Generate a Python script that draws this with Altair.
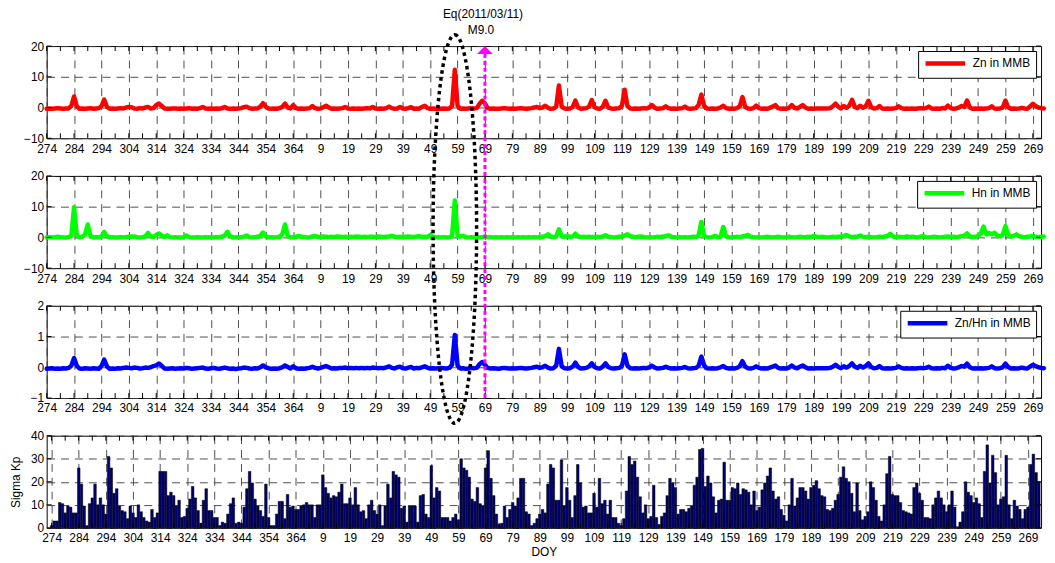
import altair as alt
import pandas as pd

# ---------------- data (day index 0 = DOY 274 of 2010) ----------------
DOY_START = 274
N_DAYS = 365
EQ_IDX = 160          # 2011/03/11 event marker position (tick "69")

kp = [
    1, 3, 3, 11, 10.5, 6.5, 9.5, 9, 6.5, 6.5,
    26, 19, 9.5, 1, 10.5, 13, 19, 10, 13, 10,
    6, 31, 26, 15, 17, 9.5, 7.5, 7, 4, 9.5,
    6.5, 4.5, 10, 7, 4.5, 3, 2.5, 8, 4.5, 6.5,
    24.5, 24.5, 24.5, 14, 15.5, 14, 9.5, 12, 4.5, 5,
    8.5, 12.5, 18, 13, 7.5, 2, 12, 17, 7.5, 7.5,
    4.5, 4.5, 1, 2.5, 2, 6, 10.5, 13, 2, 2.5,
    2, 9, 17, 24.5, 19.5, 12.5, 9.5, 7.5, 5, 19,
    4.5, 1, 1, 6, 11.5, 11.5, 4, 14.5, 9, 9.5,
    8, 8, 9.5, 10, 11, 10, 10, 4.5, 10, 10,
    23, 17.5, 15, 13, 14, 13.5, 15.5, 19, 10.5, 10.5,
    13, 10, 17.5, 10, 7, 7.5, 4, 10, 12, 7.5,
    6, 10, 1, 9.5, 19, 13, 24.5, 23, 22, 8.5,
    9.5, 2.5, 9.5, 9.5, 9.5, 2.5, 14, 14.5, 6, 4.5,
    27, 13, 17.5, 16, 4.5, 4.5, 4.5, 3, 4.5, 6,
    3.5, 30, 26, 25, 22, 12.5, 11.5, 17.5, 10.5, 9.5,
    26, 33.5, 21.5, 14, 6, 1.5, 2, 9.5, 4.5, 8,
    11, 9.5, 13, 21.5, 21.5, 7, 6, 1, 2, 4,
    6, 8, 6.5, 19, 27.5, 26, 12, 12, 29.5, 9.5,
    17.5, 12, 4.5, 14, 27.5, 19.5, 9, 9.5, 6.5, 6.5,
    15, 9, 21.5, 10.5, 12, 6, 12, 4.5, 4.5, 2,
    1, 4, 16, 31, 27.5, 29, 22, 13.5, 6.5, 10,
    4, 5, 18.5, 4.5, 1.5, 5, 6.5, 14, 21.5, 19.5,
    17.5, 6, 8, 8, 7, 8.5, 9.5, 18.5, 22, 34,
    34.5, 18, 22.5, 19.5, 13.5, 6.5, 12, 12.5, 28.5, 12,
    12, 17.5, 17, 19.5, 14.5, 17, 16.5, 15.5, 10, 16,
    7.5, 9, 16.5, 19.5, 22.5, 26, 16, 12.5, 13.5, 8,
    5.5, 3, 10, 21.5, 9.5, 13, 17.5, 17.5, 16, 12.5,
    17.5, 18.5, 20.5, 17, 14, 13.5, 8, 7.5, 8.5, 12,
    14.5, 22, 26.5, 21.5, 20, 15, 7, 19.5, 7.5, 3.5,
    5, 7, 20, 17.5, 12, 5, 3, 10, 23.5, 31,
    14.5, 14, 14, 11, 7.5, 7, 6.5, 6, 17.5, 19.5,
    15, 12, 4.5, 4.5, 4, 10, 13, 16, 13, 10,
    7, 10, 16, 9, 0.5, 2.5, 7, 20, 15.5, 14,
    11, 13, 10.5, 4.5, 24.5, 36, 19.5, 31.5, 24, 10,
    12.5, 13.5, 31.5, 10, 4, 12, 9.5, 8, 4, 8,
    9, 27.5, 32, 24, 20,
]

zn = [
    -0.4, -0.3, -0.4, -0.3, -0.2, -0.3, -0.4, -0.3, -0.3, 0.5,
    3.6, 0.4, -0.4, -0.3, -0.4, -0.3, -0.2, -0.4, -0.3, -0.2,
    0.4, 2.6, 0.2, -0.4, -0.3, -0.4, -0.3, -0.2, -0.3, 0.0,
    0.2, 0.1, -0.3, -0.4, -0.2, -0.3, 0.0, 0.2, -0.3, -0.2,
    0.8, 1.3, 0.5, -0.3, -0.4, -0.4, -0.3, -0.3, -0.4, -0.3,
    -0.4, -0.3, -0.2, -0.4, -0.3, -0.4, -0.2, 0.2, -0.3, -0.4,
    -0.3, -0.4, -0.3, -0.4, -0.2, 0.2, -0.3, -0.4, -0.3, -0.4,
    -0.3, -0.2, 0.1, 0.3, -0.2, -0.4, -0.3, -0.3, 0.3, 1.4,
    0.2, -0.3, -0.4, -0.3, -0.4, -0.2, 0.2, 1.3, 0.0, -0.3,
    0.8, -0.2, -0.4, -0.3, -0.4, -0.3, -0.2, 0.5, -0.2, -0.4,
    -0.3, 0.1, 0.6, 0.0, -0.4, -0.3, -0.4, -0.3, -0.2, 0.2,
    -0.3, -0.4, -0.3, -0.4, -0.3, -0.4, -0.3, -0.2, -0.3, 0.2,
    -0.3, -0.4, -0.3, -0.4, -0.2, 0.3, -0.2, -0.4, -0.3, 0.2,
    -0.3, -0.4, -0.2, 0.1, -0.4, -0.3, -0.4, 0.2, 0.6, -0.2,
    -0.4, -0.3, -0.4, -0.3, -0.4, -0.3, -0.4, -0.3, 0.5, 12.3,
    0.6, -0.4, -0.3, -0.4, -0.3, -0.2, -0.3, -0.2, 1.2, 2.2,
    1.3, -0.2, -0.4, -0.3, -0.4, -0.4, -0.3, -0.2, -0.3, -0.4,
    -0.3, -0.4, -0.3, -0.2, -0.3, -0.4, -0.3, -0.2, 0.0, 0.2,
    -0.2, 0.0, 0.6, -0.1, -0.4, -0.3, 0.2, 7.2, 0.3, -0.3,
    -0.4, -0.3, 0.1, 2.3, 0.0, -0.4, -0.3, -0.2, 0.3, 2.4,
    0.1, -0.3, -0.4, 0.2, 2.2, 0.0, -0.3, -0.4, -0.3, -0.2,
    0.6, 5.8, 0.5, -0.3, -0.4, -0.3, -0.4, -0.3, -0.2, -0.3,
    0.1, 0.8, -0.1, -0.4, -0.3, -0.2, 0.4, -0.2, -0.4, -0.3,
    -0.4, -0.3, -0.2, 0.3, -0.3, -0.4, -0.3, -0.2, 0.8, 4.2,
    0.5, -0.3, -0.4, -0.3, -0.4, -0.3, 0.0, 0.6, -0.2, -0.4,
    -0.3, -0.4, -0.2, 0.4, 3.4, 0.2, -0.3, -0.4, -0.2, 0.6,
    -0.2, -0.4, -0.3, -0.4, -0.1, 0.3, 0.8, -0.2, -0.4, -0.3,
    -0.4, -0.1, 0.8, -0.1, -0.3, 0.2, 0.8, 0.0, -0.4, -0.3,
    -0.4, -0.3, -0.3, -0.3, -0.3, -0.3, -0.2, 0.4, 1.3, 0.2,
    -0.3, 0.5, -0.1, 0.6, 2.5, 0.2, -0.2, 0.6, -0.1, 0.4,
    2.2, 0.1, -0.3, -0.2, 0.5, -0.3, -0.4, -0.3, -0.4, -0.3,
    -0.2, 0.4, -0.2, -0.4, -0.3, -0.4, -0.3, -0.4, -0.3, -0.2,
    -0.3, -0.2, 0.3, -0.3, -0.4, -0.3, -0.4, -0.2, -0.3, 0.6,
    -0.2, -0.4, -0.3, 0.0, 0.5, 0.2, 2.3, 0.0, -0.4, -0.3,
    -0.4, -0.3, -0.4, -0.3, -0.2, 0.4, -0.3, -0.4, -0.3, 0.0,
    2.3, 0.1, -0.4, -0.3, -0.4, -0.3, -0.1, -0.3, -0.4, 0.3,
    1.2, 0.5, 0.0, -0.2, -0.3,
]

hn = [
    0.0, 0.1, 0.0, 0.1, 0.2, 0.1, 0.0, 0.0, 0.1, 0.5,
    9.8, 0.6, 0.0, 0.2, 0.9, 4.2, 0.4, 0.0, 0.1, 0.0,
    0.3, 1.8, 0.4, 0.0, 0.1, 0.0, 0.0, 0.1, 0.0, 0.1,
    0.2, 0.3, 0.3, 0.1, 0.0, 0.1, 0.3, 1.5, 0.3, 0.2,
    0.8, 1.3, 0.6, 0.1, 0.7, 0.1, 0.0, 0.1, 0.0, 0.0,
    0.1, 0.6, 0.1, 0.0, 0.0, 0.1, 0.0, 0.0, 0.1, 0.0,
    0.1, 0.0, 0.1, 0.0, 0.2, 0.6, 1.8, 0.4, 0.0, 0.1,
    0.0, 0.1, 0.2, 0.6, 0.1, 0.0, 0.1, 0.2, 0.5, 1.6,
    0.3, 0.0, 0.1, 0.0, 0.1, 0.2, 1.0, 4.2, 0.5, 0.0,
    0.1, 0.2, 0.5, 0.2, 0.1, 0.0, 0.1, 0.3, 0.5, 0.2,
    0.1, 0.3, 0.2, 0.1, 0.2, 0.1, 0.3, 0.2, 0.1, 0.2,
    0.1, 0.2, 0.1, 0.3, 0.2, 0.1, 0.2, 0.1, 0.2, 0.2,
    0.1, 0.3, 0.2, 0.1, 0.2, 0.3, 0.5, 0.2, 0.1, 0.2,
    0.1, 0.2, 0.3, 0.2, 0.1, 0.3, 0.4, 0.1, 0.2, 0.1,
    0.8, 0.2, 0.0, 0.1, 0.0, 0.1, 0.0, 0.1, 0.4, 12.0,
    0.4, 0.3, 0.5, 0.1, 0.0, 0.1, 0.0, 0.1, 0.0, 0.1,
    0.2, 0.0, 0.1, 0.0, 0.1, 0.0, 0.1, 0.0, 0.1, 0.0,
    0.1, 0.0, 0.1, 0.0, 0.1, 0.0, 0.1, 0.0, 0.1, 0.0,
    0.1, 0.2, 0.4, 1.0, 0.3, 0.1, 0.3, 2.6, 0.4, 0.2,
    0.5, 0.2, 0.3, 1.2, 0.4, 0.1, 0.2, 0.1, 0.2, 0.1,
    0.1, 0.2, 0.1, 0.3, 0.7, 0.2, 0.1, 0.0, 0.1, 0.2,
    0.3, 0.6, 1.0, 0.4, 0.2, 0.1, 0.2, 0.3, 0.1, 0.0,
    0.1, 0.0, 0.1, 0.2, 0.1, 0.3, 0.4, 0.7, 0.2, 0.1,
    0.0, 0.1, 0.0, 0.1, 0.0, 0.1, 0.2, 0.1, 0.6, 5.0,
    0.4, 0.1, 0.0, 0.1, 0.5, 0.1, 0.2, 3.4, 0.3, 0.1,
    0.0, 0.1, 0.2, 0.1, 0.3, 0.5, 0.8, 0.2, 0.1, 0.0,
    0.1, 0.0, 0.1, 0.2, 0.1, 0.0, 0.1, 0.2, 0.1, 0.0,
    0.1, 0.2, 0.1, 0.0, 0.1, 0.2, 0.1, 0.0, 0.2, 0.1,
    0.5, 0.2, 0.1, 0.2, 0.1, 0.0, 0.1, 0.2, 0.1, 0.2,
    0.3, 0.5, 0.8, 0.3, 0.1, 0.2, 0.3, 0.6, 0.2, 0.1,
    0.2, 0.1, 0.0, 0.1, 0.2, 0.1, 0.3, 0.5, 1.2, 0.3,
    0.1, 0.2, 0.1, 0.0, 0.3, 0.1, 0.2, 0.1, 0.0, 0.2,
    0.4, 0.1, 0.0, 0.1, 0.2, 0.1, 0.0, 0.1, 0.2, 0.3,
    0.1, 0.2, 0.1, 0.2, 0.4, 0.6, 1.3, 0.3, 0.1, 0.2,
    0.5, 1.2, 3.5, 1.0, 1.4, 1.0, 1.5, 0.6, 0.3, 0.8,
    3.7, 0.8, 0.3, 0.5, 1.0, 0.4, 0.2, 0.1, 0.2, 0.3,
    0.5, 0.2, 0.1, 0.2, 0.3,
]

zh = [
    -0.05, -0.04, -0.03, -0.05, -0.04, -0.05, -0.03, -0.04, -0.02, 0.05,
    0.3, 0.05, -0.04, -0.05, -0.03, -0.04, -0.05, -0.03, -0.04, -0.05,
    0.04, 0.25, 0.03, -0.05, -0.04, -0.05, -0.03, -0.04, -0.02, -0.01,
    -0.02, -0.03, -0.01, -0.02, -0.04, -0.03, -0.01, -0.02, 0.0, 0.04,
    0.06, 0.12, 0.05, -0.04, -0.05, -0.04, -0.03, -0.05, -0.04, -0.03,
    -0.04, -0.02, -0.03, -0.05, -0.04, -0.03, -0.02, -0.01, -0.04, -0.05,
    -0.03, -0.02, -0.04, -0.05, -0.03, -0.01, -0.03, -0.05, -0.04, -0.06,
    -0.04, -0.03, -0.01, -0.02, -0.04, -0.05, -0.03, -0.04, 0.0, 0.06,
    0.0, -0.03, -0.05, -0.04, -0.05, -0.03, 0.0, 0.06, 0.01, -0.04,
    0.03, -0.03, -0.05, -0.04, -0.05, -0.03, -0.02, 0.02, -0.02, -0.04,
    -0.02, 0.01, 0.04, 0.0, -0.04, -0.03, -0.04, -0.02, -0.02, -0.01,
    -0.03, -0.02, -0.03, -0.02, -0.03, -0.02, -0.03, -0.02, -0.03, -0.01,
    -0.02, -0.03, -0.02, -0.03, 0.0, 0.03, -0.02, -0.04, 0.0, 0.02,
    -0.03, -0.04, -0.01, 0.01, -0.04, -0.02, -0.03, 0.0, 0.03, -0.01,
    -0.04, -0.03, -0.04, -0.03, -0.02, -0.03, -0.04, -0.02, 0.08, 1.05,
    0.06, -0.04, -0.03, -0.05, -0.04, -0.02, -0.03, -0.02, 0.1, 0.17,
    0.08, -0.02, -0.04, -0.03, -0.04, -0.05, -0.03, -0.02, -0.03, -0.04,
    -0.03, -0.04, -0.03, -0.02, -0.03, -0.04, -0.03, -0.02, 0.0, 0.02,
    -0.02, 0.0, 0.05, -0.01, -0.04, -0.03, 0.05, 0.6, 0.03, -0.03,
    -0.04, -0.03, 0.02, 0.15, 0.01, -0.04, -0.03, -0.02, 0.03, 0.13,
    0.01, -0.03, -0.04, 0.02, 0.13, 0.01, -0.03, -0.04, -0.03, -0.02,
    0.05, 0.42, 0.05, -0.03, -0.04, -0.03, -0.04, -0.03, -0.02, -0.03,
    0.0, 0.05, -0.01, -0.04, -0.03, -0.02, 0.02, -0.02, -0.04, -0.03,
    -0.04, -0.03, -0.02, 0.01, -0.03, -0.04, -0.03, -0.02, 0.05, 0.35,
    0.06, -0.03, -0.04, -0.03, -0.04, -0.03, 0.0, 0.04, -0.02, -0.04,
    -0.03, -0.04, -0.02, 0.03, 0.2, 0.02, -0.03, -0.04, -0.02, 0.03,
    -0.02, -0.04, -0.03, -0.04, -0.01, 0.02, 0.06, -0.02, -0.04, -0.03,
    -0.04, -0.01, 0.06, -0.01, -0.03, 0.02, 0.06, 0.0, -0.04, -0.03,
    -0.04, -0.03, -0.03, -0.03, -0.03, -0.03, -0.02, 0.02, 0.08, 0.01,
    -0.03, 0.03, -0.01, 0.04, 0.13, 0.02, -0.02, 0.05, -0.01, 0.04,
    0.13, 0.01, -0.03, -0.02, 0.04, -0.03, -0.04, -0.03, -0.04, -0.03,
    -0.02, 0.03, -0.02, -0.04, -0.03, -0.04, -0.03, -0.04, -0.03, -0.02,
    -0.03, -0.02, 0.02, -0.03, -0.04, -0.03, -0.04, -0.02, -0.03, 0.05,
    -0.02, -0.04, -0.03, 0.0, 0.04, 0.02, 0.12, 0.0, -0.04, -0.03,
    -0.04, -0.03, -0.04, -0.03, -0.02, 0.03, -0.03, -0.04, -0.03, 0.0,
    0.12, 0.01, -0.04, -0.03, -0.04, -0.03, -0.01, -0.03, -0.04, 0.02,
    0.08, 0.04, 0.0, -0.02, -0.03,
]

for arr in (kp, zn, hn, zh):
    assert len(arr) == N_DAYS, len(arr)

days = list(range(N_DAYS))
x_major = list(range(0, 361, 10))
x_minor = list(range(0, 364, 5))

# ---------------- layout ----------------
W, H, S = 1003, 93, 38
FONT = "Liberation Sans"
X_DOMAIN = [0, 363]
LABEL_EXPR = ("datum.value + %d > 365 ? datum.value + %d - 365 : datum.value + %d"
              % (DOY_START, DOY_START, DOY_START))

xscale = alt.Scale(domain=X_DOMAIN, nice=False, zero=False)


def x_enc(title=""):
    kw = dict(values=x_major, labelExpr=LABEL_EXPR, grid=True, gridDash=[8, 6],
              gridColor="#3a3a3a", gridWidth=0.9, ticks=False, domain=False,
              labelPadding=5, labelFlush=False, labelOverlap=False,
              labelFontSize=12, labelFont=FONT, labelColor="black")
    if title:
        kw.update(title=title, titleFontWeight="normal", titleFontSize=12,
                  titleFont=FONT, titlePadding=3, titleColor="black")
    else:
        kw.update(title=None)
    return alt.X("day:Q", scale=xscale, axis=alt.Axis(**kw))


def y_enc(domain, values, title=""):
    kw = dict(values=values, grid=True, gridDash=[8, 6], gridColor="#3a3a3a",
              gridWidth=0.9, ticks=False, domain=False, labelPadding=3,
              labelOverlap=False, labelFontSize=12, labelFont=FONT,
              labelColor="black")
    if title:
        kw.update(title=title, titleFontWeight="normal", titleFontSize=12,
                  titleFont=FONT, titlePadding=8, titleColor="black")
    else:
        kw.update(title=None)
    return alt.Y("val:Q", scale=alt.Scale(domain=domain, nice=False, zero=False),
                 axis=alt.Axis(**kw))


def tick_layers(domain, yvalues, xtitle="", ytitle=""):
    tx = pd.DataFrame({"day": x_minor})
    ty = pd.DataFrame({"val": yvalues})
    rule = dict(color="black", strokeWidth=1)
    top = alt.Chart(tx).mark_rule(**rule).encode(
        x=x_enc(xtitle), y=alt.value(0), y2=alt.value(5))
    bot = alt.Chart(tx).mark_rule(**rule).encode(
        x=x_enc(xtitle), y=alt.value(H), y2=alt.value(H - 5))
    left = alt.Chart(ty).mark_rule(**rule).encode(
        y=y_enc(domain, yvalues, ytitle), x=alt.value(0), x2=alt.value(5))
    right = alt.Chart(ty).mark_rule(**rule).encode(
        y=y_enc(domain, yvalues, ytitle), x=alt.value(W), x2=alt.value(W - 5))
    return [top, bot, left, right]


def line_panel(values, label, color, domain, yvalues, extra=()):
    df = pd.DataFrame({"day": days, "val": values, "series": label})
    line = alt.Chart(df).mark_line(strokeWidth=4.5, strokeJoin="round",
                                   strokeCap="round").encode(
        x=x_enc(),
        y=y_enc(domain, yvalues),
        color=alt.Color("series:N",
                        scale=alt.Scale(domain=[label], range=[color]),
                        legend=alt.Legend(orient="top-right", offset=5, title=None,
                                          symbolType="M-1,0L7,0", symbolSize=100,
                                          symbolStrokeWidth=4.5,
                                          labelOffset=35, labelFontSize=12,
                                          labelFont=FONT, labelColor="black",
                                          strokeColor="black", fillColor="white",
                                          padding=5)),
    )
    return alt.layer(line, *tick_layers(domain, yvalues), *extra).properties(
        width=W, height=H)


# ---------------- annotations ----------------
eq_df = pd.DataFrame({"day": [EQ_IDX], "l1": ["Eq(2011/03/11)"], "l2": ["M9.0"]})
title1 = alt.Chart(eq_df).mark_text(fontSize=12, font=FONT, color="black", dx=-2,
                                    baseline="top").encode(
    x=x_enc(), y=alt.value(-37), text="l1:N")
title2 = alt.Chart(eq_df).mark_text(fontSize=12, font=FONT, color="black", dx=-4,
                                    baseline="top").encode(
    x=x_enc(), y=alt.value(-21), text="l2:N")

TOP_OF_P1 = -2 * (H + S)   # panel-1 top, in panel-3 pixel coordinates
magenta_line = alt.Chart(eq_df).mark_rule(color="#ff00ff", strokeWidth=3,
                                          strokeDash=[4, 3]).encode(
    x=x_enc(), y=alt.value(TOP_OF_P1 + 8), y2=alt.value(H))
magenta_head = alt.Chart(eq_df).mark_point(shape="M0,-0.5L-1,0.5L1,0.5Z", size=256,
                                           filled=True, color="#ff00ff", opacity=1).encode(
    x=x_enc(), y=alt.value(TOP_OF_P1 + 4))

# dotted ellipse around the precursor spike (centre day / value in panel-3 units)
ell_df = pd.DataFrame({"day": [149.0], "val": [4.5]})
ellipse = alt.Chart(ell_df).mark_point(
    shape="M0,-1A0.112,1,0,1,1,0,1A0.112,1,0,1,1,0,-1Z", size=153664,
    filled=False, stroke="black", strokeWidth=3.5, strokeDash=[3.5, 3.5],
    strokeCap="butt", opacity=1).encode(
    x=x_enc(), y=y_enc([-1, 2], [-1, 0, 1, 2]))

# ---------------- panels ----------------
p1 = line_panel(zn, "Zn in MMB", "#ff0000", [-10, 20], [-10, 0, 10, 20],
                extra=(title1, title2))
p2 = line_panel(hn, "Hn in MMB", "#00ff00", [-10, 20], [-10, 0, 10, 20])
p3 = line_panel(zh, "Zn/Hn in MMB", "#0000ff", [-1, 2], [-1, 0, 1, 2],
                extra=(ellipse, magenta_line, magenta_head))

kp_df = pd.DataFrame({"day": days, "val": kp})
kp_ticks = [0, 10, 20, 30, 40]
bars = alt.Chart(kp_df).mark_bar(size=2.6, color="#00006e", stroke="black",
                                 strokeWidth=0.5).encode(
    x=x_enc("DOY"),
    y=y_enc([0, 40], kp_ticks, "Sigma Kp"),
)
p4 = alt.layer(bars, *tick_layers([0, 40], kp_ticks, "DOY", "Sigma Kp")).properties(
    width=W, height=H)

chart = alt.vconcat(p1, p2, p3, p4, spacing=S, bounds="flush").resolve_scale(
    y="independent", color="independent").properties(
    padding={"left": 1, "top": -3, "right": 0, "bottom": 0},
    background="white",
).configure_view(stroke="black", strokeWidth=1)

chart.save("out.html", embed_options={"renderer": "svg", "actions": False})
